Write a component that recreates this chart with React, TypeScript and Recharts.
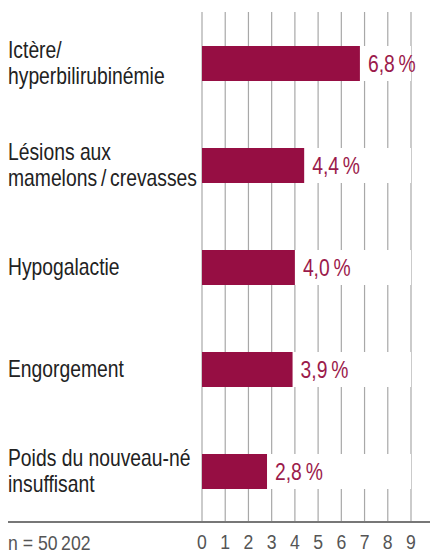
import {
  Bar,
  BarChart,
  CartesianGrid,
  LabelList,
  XAxis,
  YAxis,
} from "recharts";

const categories = [
  "Ictère/\nhyperbilirubinémie",
  "Lésions aux\nmamelons\u2009/\u2009crevasses",
  "Hypogalactie",
  "Engorgement",
  "Poids du nouveau-né\ninsuffisant",
];
const values = [6.8, 4.4, 4.0, 3.9, 2.8];
const xTicks = [0, 1, 2, 3, 4, 5, 6, 7, 8, 9];
const sampleNote = "n = 50\u2009202";

// no condensed face installed, so squeeze Liberation Sans horizontally
const FONT = '"Liberation Sans", Arial, sans-serif';
const SQ = 0.84;
const BAR = "#960e43";
const LABEL = "#9b1a4b";

const data = categories.map((name, i) => ({ name, value: values[i] }));

function CategoryTick(props: any) {
  const { y, payload } = props;
  const lines = String(payload.value).split("\n");
  const lh = 27;
  const first = y - ((lines.length - 1) * lh) / 2 + 8;
  return (
    <g transform={`translate(8,${first}) scale(${SQ},1)`}>
      <text x={0} y={0} fill="#222" fontSize={23} fontFamily={FONT} textAnchor="start">
        {lines.map((l, i) => (
          <tspan key={i} x={0} y={i * lh}>
            {l}
          </tspan>
        ))}
      </text>
    </g>
  );
}

function ValueTick(props: any) {
  const { x, y, payload } = props;
  return (
    <text
      transform={`translate(${x},${y + 19}) scale(${SQ},1)`}
      fill="#555"
      fontSize={21}
      fontFamily={FONT}
      textAnchor="middle"
    >
      {payload.value}
    </text>
  );
}

function ValueLabel(props: any) {
  const { x, y, width, height, value } = props;
  return (
    <text
      transform={`translate(${x + width + 8},${y + height / 2 + 8}) scale(${SQ},1)`}
      fill={LABEL}
      fontSize={23}
      fontFamily={FONT}
    >
      {`${Number(value).toFixed(1).replace(".", ",")}\u2009%`}
    </text>
  );
}

export default function App() {
  return (
    <div style={{ position: "absolute", left: 0, top: 0, width: 430, height: 556, background: "#fff" }}>
      <BarChart
        width={430}
        height={556}
        data={data}
        layout="vertical"
        margin={{ top: 12, right: 19, left: 8, bottom: 0 }}
        barSize={35}
      >
        <CartesianGrid horizontal={false} stroke="#a8a8a8" strokeWidth={1.2} />
        <XAxis
          type="number"
          domain={[0, 9]}
          ticks={xTicks}
          axisLine={false}
          tickLine={false}
          height={34}
          interval={0}
          tick={<ValueTick />}
        />
        <YAxis
          type="category"
          dataKey="name"
          width={194}
          axisLine={false}
          tickLine={false}
          interval={0}
          tick={<CategoryTick />}
        />
        <Bar
          dataKey="value"
          fill={BAR}
          background={{ fill: "#fff" }}
          isAnimationActive={false}
        >
          <LabelList dataKey="value" content={<ValueLabel />} />
        </Bar>
      </BarChart>
      <div
        style={{
          position: "absolute",
          left: 0,
          right: 0,
          top: 521,
          height: 2,
          background: "#777",
          marginLeft: 8,
        }}
      />
      <div
        style={{
          position: "absolute",
          left: 8,
          top: 531,
          fontFamily: FONT,
          fontSize: 21,
          color: "#555",
          lineHeight: "24px",
          whiteSpace: "nowrap",
          transform: `scaleX(${SQ})`,
          transformOrigin: "left center",
        }}
      >
        {sampleNote}
      </div>
    </div>
  );
}
